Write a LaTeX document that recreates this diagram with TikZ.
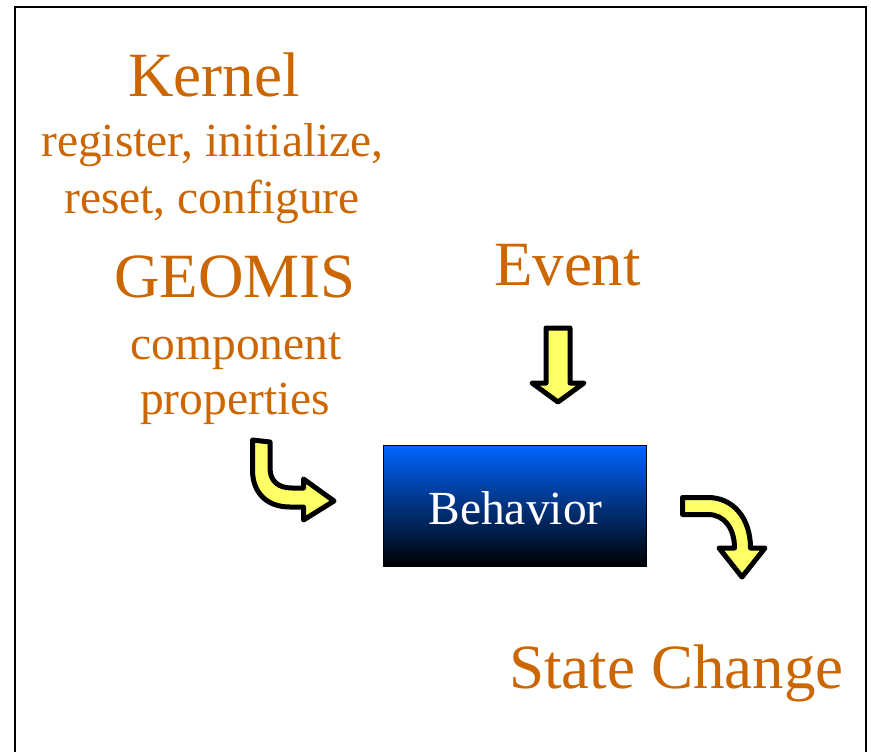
\documentclass[tikz,border=0pt]{standalone}
\usepackage{fontspec}
\setmainfont{Liberation Serif}
\definecolor{txtorange}{RGB}{204,102,0}
\definecolor{boxblue}{RGB}{0,102,255}
\definecolor{arrowyellow}{RGB}{255,255,102}
\tikzset{
  big/.style={anchor=base,inner sep=0pt,text=txtorange,font=\fontsize{63}{63}\selectfont},
  small/.style={anchor=base,inner sep=0pt,text=txtorange,font=\fontsize{47.5}{47.5}\selectfont},
  blockarrow/.style={fill=arrowyellow,draw=black,line width=5pt,line join=round},
  frame/.style={draw=black,line width=2pt}
}
\begin{document}
\begin{tikzpicture}[x=1pt,y=-1pt]
\useasboundingbox (0,0) rectangle (871,752);
\fill[white] (0,0) rectangle (871,752);
% frame (open at the bottom)
\draw[frame] (15,752) -- (15,7) -- (866,7) -- (866,752);

% texts
\node[big]   (kernel)   at (214,96)  {Kernel};
\node[small] (kline1)   at (212.5,156) {register, initialize,};
\node[small] (kline2)   at (212,213) {reset, configure};
\node[big]   (geomis)   at (235,297) {GEOMIS};
\node[small] (gline1)   at (236,359) {component};
\node[small] (gline2)   at (235,414) {properties};
\node[big]   (event)    at (567.5,285) {Event};
\node[big]   (state)    at (676.5,688) {State Change};

% behavior box
\shade[top color=boxblue,bottom color=black] (383,445) rectangle (646,566);
\draw[black,line width=1pt] (383,445) rectangle (646,566);
\node[anchor=base,inner sep=0pt,text=white,font=\fontsize{47.5}{47.5}\selectfont] (behavior) at (515.5,524) {Behavior};

% down arrow (Event -> Behavior)
\draw[blockarrow] (546,328) -- (570,328) -- (570,383) -- (584,383) -- (558,402) -- (532,383) -- (546,383) -- cycle;

% curved arrow (GEOMIS -> Behavior)
\draw[blockarrow] (252.5,440) -- (270,442) -- (270,468)
  .. controls (270,481) and (278,488) .. (292,488) -- (303.5,488) -- (303.5,479)
  -- (334,501) -- (303.5,520) -- (303.5,507) -- (290,507)
  .. controls (266,507) and (252.5,492) .. (252.5,470) -- cycle;

% curved arrow (Behavior -> State Change)
\draw[blockarrow] (682.5,497.5) -- (708,497.5)
  .. controls (733,497.5) and (750.5,518) .. (750.5,548) -- (765,548)
  -- (742,577) -- (719,548) -- (734.5,548)
  .. controls (734.5,528) and (724,514.5) .. (708,514.5) -- (682.5,514.5) -- cycle;
\end{tikzpicture}
\end{document}
